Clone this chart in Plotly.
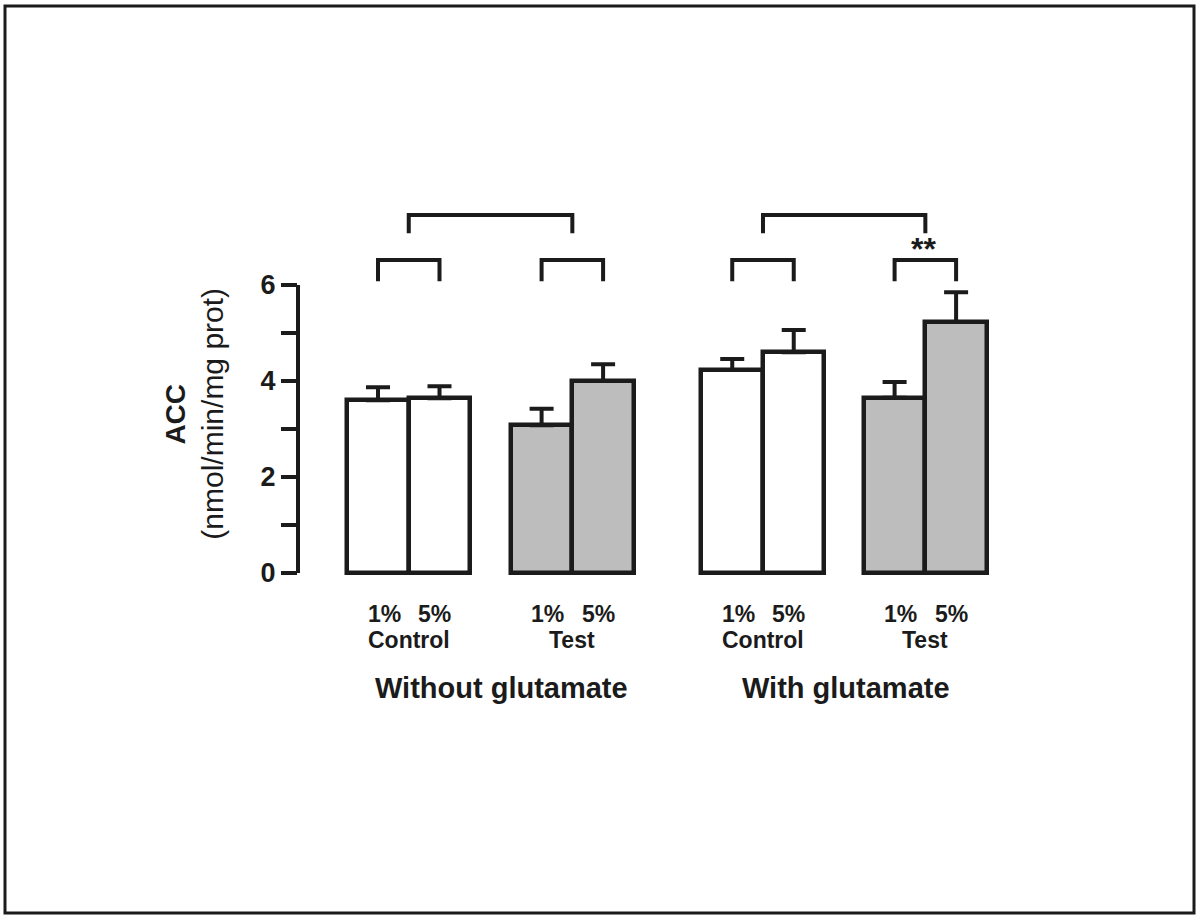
import plotly.graph_objects as go

# ACC activity by O2 level, treatment and glutamate supplementation
conditions = ["Without glutamate", "With glutamate"]
groups = ["Control", "Test"]
levels = ["1%", "5%"]
acc_mean = [3.60, 3.64, 3.08, 4.00, 4.23, 4.60, 3.65, 5.23]
acc_sem = [0.27, 0.25, 0.34, 0.35, 0.23, 0.46, 0.33, 0.62]
y_ticks = [0, 1, 2, 3, 4, 5, 6]
y_ticklabels = ["0", "", "2", "", "4", "", "6"]

W, H = 1197, 915
ML, MR, MT, MB = 298, 197, 165, 330
PW, PH = W - ML - MR, H - MT - MB
X_RANGE = [-1.3008, -1.3008 + PW / 61.5]
Y_RANGE = [-0.25, 8.5]

INK = "#1b1b1b"
GREY = "#bdbdbd"
FAMILY = "Liberation Sans, Arial, sans-serif"

# bar centres: two touching bars per pair, wider gap between conditions
pair_starts = [0.0, 2.66, 5.76, 8.40]
xs = []
for s in pair_starts:
    xs += [s, s + 1.0]
fills = []
for c in conditions:
    for g in groups:
        fills += ["white" if g == "Control" else GREY] * 2

fig = go.Figure()
fig.add_trace(go.Bar(
    x=xs, y=acc_mean, width=1.0,
    marker=dict(color=fills, line=dict(color=INK, width=4.5)),
    error_y=dict(type="data", array=acc_sem, arrayminus=[0] * len(acc_sem),
                 symmetric=False, color=INK, thickness=4, width=12),
    hoverinfo="skip", showlegend=False,
))

def px_x(p):
    return (p - ML) / PW

def px_y(p):
    return (H - MB - p) / PH

shapes = []
# frame round the whole figure
shapes.append(dict(type="rect", xref="paper", yref="paper",
                   x0=px_x(5), x1=px_x(1194), y0=px_y(913), y1=px_y(6),
                   line=dict(color=INK, width=3), layer="below"))
# y axis line from 0 to 6 only
shapes.append(dict(type="line", xref="paper", yref="y", x0=0, x1=0, y0=0, y1=6,
                   line=dict(color=INK, width=4)))

def bracket(xa, xb, ylo, yhi):
    return dict(type="path", xref="x", yref="y",
                path=f"M {xa},{ylo} L {xa},{yhi} L {xb},{yhi} L {xb},{ylo}",
                line=dict(color=INK, width=4))

# small brackets over each 1%/5% pair
for s in pair_starts:
    shapes.append(bracket(s, s + 1.0, 6.08, 6.52))
# large brackets joining control and test within each condition
for a, b in [(0, 1), (2, 3)]:
    shapes.append(bracket(pair_starts[a] + 0.5, pair_starts[b] + 0.5, 7.08, 7.46))

annotations = []
bold = dict(family=FAMILY, color=INK)
annotations.append(dict(x=pair_starts[3] + 0.47, y=6.74, xref="x", yref="y",
                        text="<b>**</b>", showarrow=False, xanchor="center",
                        font=dict(size=32, **bold), yanchor="middle"))

# category labels below the bars (pixel rows)
for i, x in enumerate(xs):
    annotations.append(dict(x=x + (0.1 if i % 2 == 0 else -0.08), y=px_y(614),
                            xref="x", yref="paper", text=f"<b>{levels[i % 2]}</b>",
                            xanchor="center", yanchor="middle",
                            showarrow=False, font=dict(size=23, **bold)))
for k, s in enumerate(pair_starts):
    annotations.append(dict(x=s + 0.5, y=px_y(640), xref="x", yref="paper",
                            text=f"<b>{groups[k % 2]}</b>", showarrow=False,
                            xanchor="center", yanchor="middle",
                            font=dict(size=23, **bold)))
for k, c in enumerate(conditions):
    cx = (pair_starts[2 * k] - 0.5 + pair_starts[2 * k + 1] + 1.5) / 2
    annotations.append(dict(x=cx + (0.18 if k == 0 else 0.03), y=px_y(688),
                            xref="x", yref="paper", text=f"<b>{c}</b>",
                            xanchor="center", yanchor="middle",
                            showarrow=False, font=dict(size=29, **bold)))

# y-axis title, two lines
annotations.append(dict(x=px_x(176), y=3.3, xref="paper", yref="y",
                        text="<b>ACC</b>", textangle=-90, showarrow=False,
                        xanchor="center", yanchor="middle",
                        font=dict(size=28, **bold)))
annotations.append(dict(x=px_x(213), y=3.32, xref="paper", yref="y",
                        text="(nmol/min/mg prot)", textangle=-90, showarrow=False,
                        xanchor="center", yanchor="middle",
                        font=dict(size=30, family=FAMILY, color=INK)))

fig.update_layout(
    width=W, height=H,
    margin=dict(l=ML, r=MR, t=MT, b=MB, pad=0),
    paper_bgcolor="white", plot_bgcolor="white",
    shapes=shapes, annotations=annotations,
    xaxis=dict(range=X_RANGE, visible=False, fixedrange=True),
    yaxis=dict(range=Y_RANGE, showgrid=False, zeroline=False, showline=False,
               tickmode="array", tickvals=y_ticks,
               ticktext=[f"<b>{t}</b>" if t else "" for t in y_ticklabels],
               ticks="outside", ticklen=16, tickwidth=3.5, tickcolor=INK,
               tickfont=dict(size=27, **bold), fixedrange=True),
    bargap=0,
)

fig.write_html("out.html")
